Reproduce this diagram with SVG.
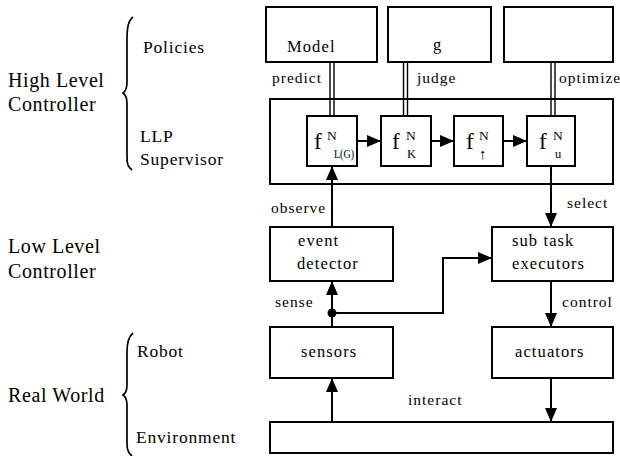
<svg xmlns="http://www.w3.org/2000/svg" width="620" height="456" viewBox="0 0 620 456" font-family="'Liberation Serif', 'DejaVu Serif', serif">
  <style>
    text { font-family: 'Liberation Serif', 'DejaVu Serif', serif; fill: #000; }
    .lvl { font-size: 20px; letter-spacing: 0.6px; }
    .sub { font-size: 17.5px; letter-spacing: 0.8px; }
    .box { fill: #fff; stroke: #000; stroke-width: 2; }
    .lbl { font-size: 16.5px; letter-spacing: 1.1px; }
    .edge { font-size: 15.5px; letter-spacing: 1px; }
    .f { font-size: 23px; }
    .sup { font-size: 13.5px; }
    .sb { font-size: 12.5px; }
    .arw { font-size: 15px; }
    .wire { fill: none; stroke: #000; stroke-width: 2; }
    .dbl { fill: none; stroke: #000; stroke-width: 1.4; }
    .brace { fill: none; stroke: #000; stroke-width: 1.7; }
  </style>
  <defs>
    <marker id="head" viewBox="0 0 14 12" refX="14" refY="6" markerWidth="14" markerHeight="12" markerUnits="userSpaceOnUse" orient="auto">
      <path d="M0,0 L14,6 L0,12 Z" fill="#000"/>
    </marker>
  </defs>

  <rect width="620" height="456" fill="#fff"/>

  <!-- level captions and braces -->
  <g id="levels">
    <text class="lvl" x="8" y="87">High Level</text>
    <text class="lvl" x="8" y="111">Controller</text>
    <text class="lvl" x="8" y="253">Low Level</text>
    <text class="lvl" x="8" y="278">Controller</text>
    <text class="lvl" x="8" y="402">Real World</text>
    <text class="sub" x="143" y="53">Policies</text>
    <text class="sub" x="140" y="142">LLP</text>
    <text class="sub" x="140" y="165">Supervisor</text>
    <text class="sub" x="137" y="357">Robot</text>
    <text class="sub" x="136" y="443">Environment</text>
    <path class="brace" d="M133,17 C128,21 127,28 127,40 L127,82 C127,88 126,91 123,93 C126,95 127,98 127,104 L127,157 C127,164 128,167 132,170"/>
    <path class="brace" d="M133,333 C128,337 127,343 127,352 L127,385 C127,390 126,393 123,395 C126,397 127,400 127,405 L127,444 C127,450 128,453 132,456"/>
  </g>

  <!-- policy boxes -->
  <g id="model">
    <rect class="box" x="266" y="7" width="111" height="55"/>
    <text class="lbl" x="287" y="52">Model</text>
  </g>
  <g id="goal">
    <rect class="box" x="388" y="7" width="103" height="55"/>
    <text class="lbl" x="433" y="50">g</text>
  </g>
  <g id="optimizer">
    <rect class="box" x="504" y="7" width="109" height="55"/>
  </g>

  <!-- supervisor frame -->
  <g id="supervisor">
    <rect class="box" x="270" y="99" width="343" height="85"/>
  </g>

  <!-- policy links (double lines) -->
  <g id="policy-links">
    <path class="dbl" d="M330,62 V116 M334,62 V116"/>
    <path class="dbl" d="M403.5,62 V116 M407.5,62 V116"/>
    <path class="dbl" d="M551,62 V116 M555,62 V116"/>
  </g>

  <!-- supervisor functions -->
  <g id="f-lg">
    <rect class="box" x="307" y="116" width="50" height="50"/>
    <text class="f" x="314" y="149">f</text>
    <text class="sup" x="327" y="140">N</text>
    <text class="sb" x="334" y="158" textLength="20" lengthAdjust="spacingAndGlyphs">L(G)</text>
  </g>
  <g id="f-k">
    <rect class="box" x="381" y="116" width="50" height="50"/>
    <text class="f" x="392" y="149">f</text>
    <text class="sup" x="406" y="140">N</text>
    <text class="sb" x="407" y="158">K</text>
  </g>
  <g id="f-up">
    <rect class="box" x="454" y="116" width="49" height="50"/>
    <text class="f" x="466" y="149">f</text>
    <text class="sup" x="479" y="140">N</text>
    <text class="arw" x="479" y="159">↑</text>
  </g>
  <g id="f-u">
    <rect class="box" x="527" y="116" width="48" height="50"/>
    <text class="f" x="539" y="149">f</text>
    <text class="sup" x="553" y="140">N</text>
    <text class="sb" x="555" y="158">u</text>
  </g>

  <!-- low level and robot -->
  <g id="event-detector">
    <rect class="box" x="270" y="227" width="123" height="54"/>
    <text class="lbl" x="298" y="246">event</text>
    <text class="lbl" x="297" y="269">detector</text>
  </g>
  <g id="subtask-executors">
    <rect class="box" x="492" y="227" width="121" height="54"/>
    <text class="lbl" x="512" y="246">sub task</text>
    <text class="lbl" x="512" y="269">executors</text>
  </g>
  <g id="sensors">
    <rect class="box" x="270" y="327" width="123" height="51"/>
    <text class="lbl" x="301" y="357">sensors</text>
  </g>
  <g id="actuators">
    <rect class="box" x="492" y="327" width="121" height="51"/>
    <text class="lbl" x="515" y="357">actuators</text>
  </g>
  <g id="environment">
    <rect class="box" x="270" y="422" width="343" height="31"/>
  </g>

  <!-- connectors -->
  <g id="connectors">
    <path class="wire" d="M357,141 H381" marker-end="url(#head)"/>
    <path class="wire" d="M431,141 H454" marker-end="url(#head)"/>
    <path class="wire" d="M503,141 H527" marker-end="url(#head)"/>
    <path class="wire" d="M332,227 V166" marker-end="url(#head)"/>
    <path class="wire" d="M551,166 V227" marker-end="url(#head)"/>
    <path class="wire" d="M332,327 V281" marker-end="url(#head)"/>
    <path class="wire" d="M332,313 H443 V258 H492" marker-end="url(#head)"/>
    <circle cx="332" cy="313" r="4.5" fill="#000"/>
    <path class="wire" d="M551,281 V327" marker-end="url(#head)"/>
    <path class="wire" d="M332,422 V378" marker-end="url(#head)"/>
    <path class="wire" d="M551,378 V422" marker-end="url(#head)"/>
  </g>

  <!-- connector labels -->
  <g id="edge-labels">
    <text class="edge" x="272" y="83">predict</text>
    <text class="edge" x="417" y="83">judge</text>
    <text class="edge" x="559" y="83">optimize</text>
    <text class="edge" x="271" y="213">observe</text>
    <text class="edge" x="567" y="208">select</text>
    <text class="edge" x="275" y="307">sense</text>
    <text class="edge" x="562" y="307">control</text>
    <text class="edge" x="408" y="405">interact</text>
  </g>
</svg>
